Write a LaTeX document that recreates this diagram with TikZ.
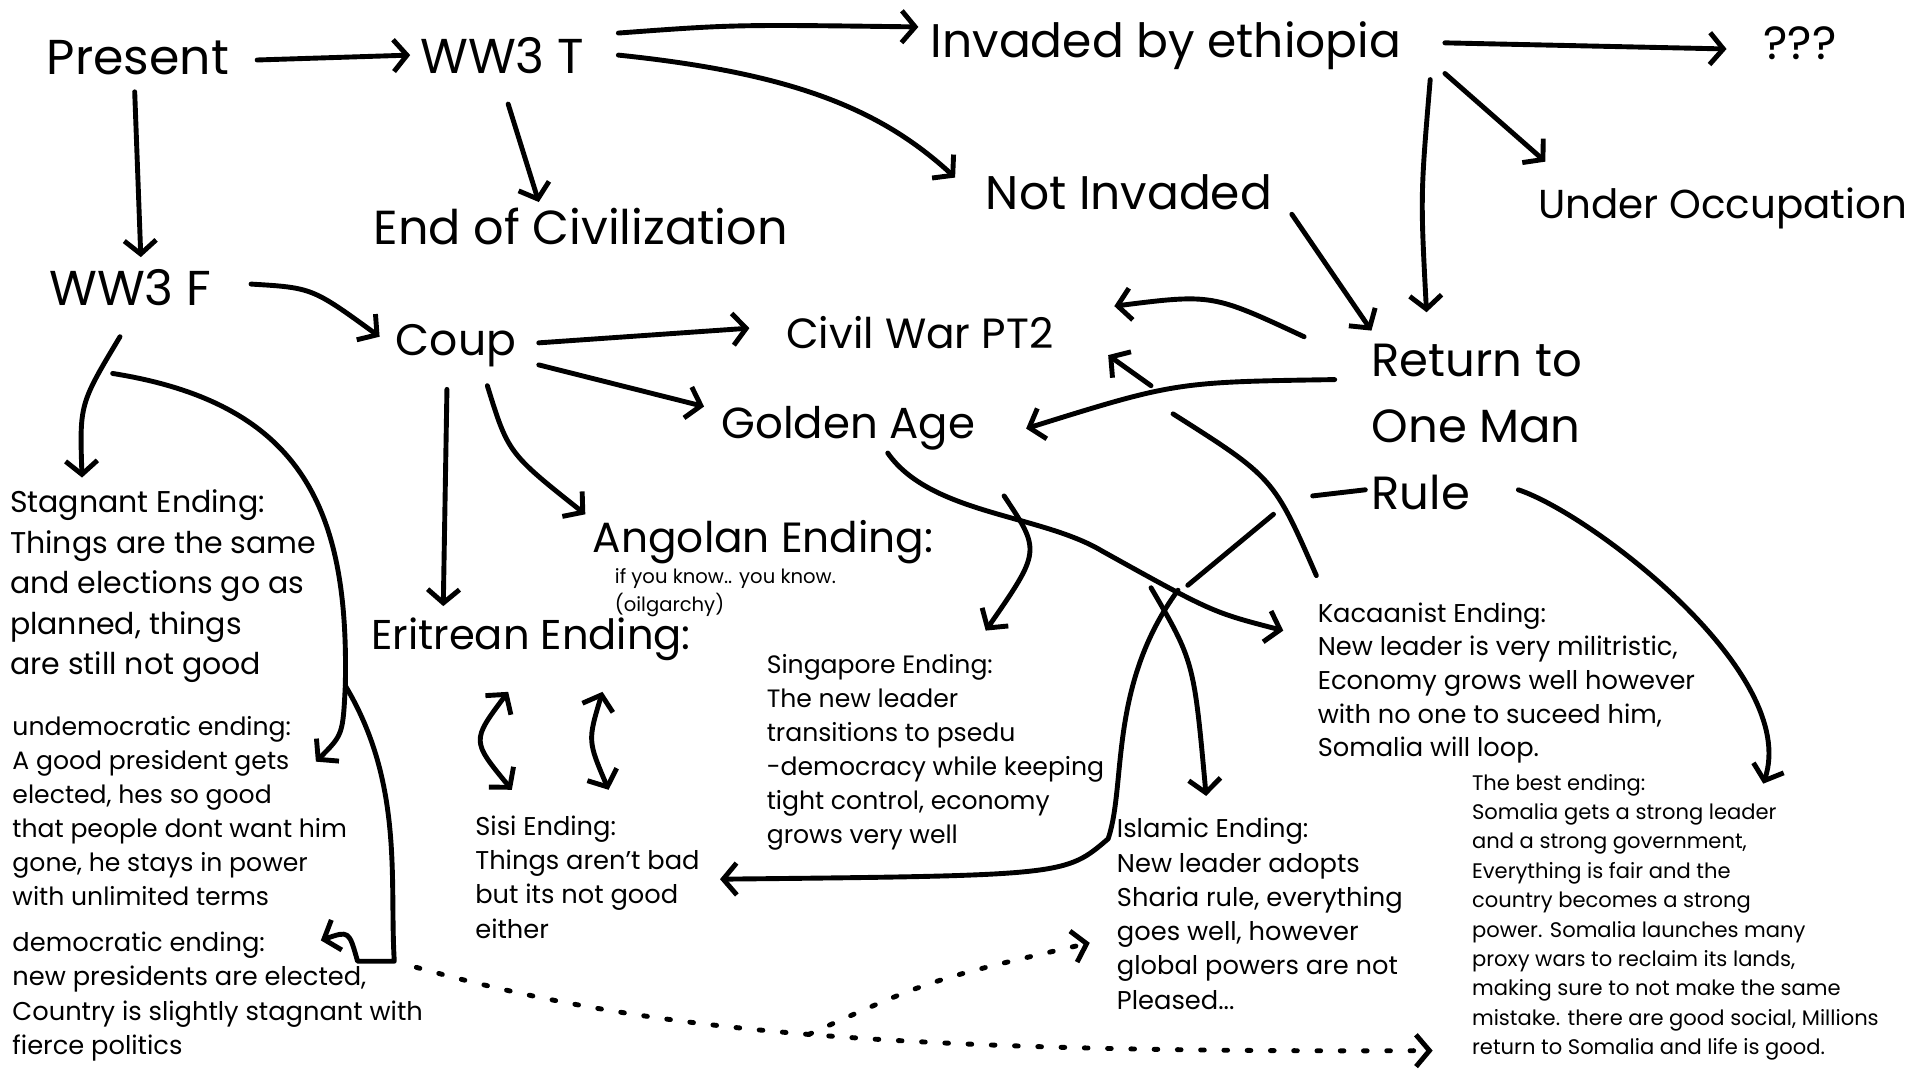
\documentclass[tikz,border=0pt]{standalone}
\usepackage{fontspec}
\setmainfont{Poppins}
\usetikzlibrary{arrows.meta}
\newcommand{\fs}[1]{\fontsize{#1}{#1}\selectfont}
\tikzset{
  t/.style={anchor=west,inner sep=0pt,font=\fs{#1}},
  blk/.style 2 args={anchor=north west,inner sep=0pt,align=left,font=\fontsize{#1}{#2}\selectfont},
  ar/.style={line width=4pt,line cap=round,line join=round,-{Straight Barb[length=11pt,width=26pt,line width=4pt]}},
  ln/.style={line width=4pt,line cap=round,line join=round},
  dar/.style={ar,dash pattern=on 3pt off 16pt},
  dd/.style={ar,{Straight Barb[length=11pt,width=26pt,line width=4pt]}-{Straight Barb[length=11pt,width=26pt,line width=4pt]}}
}
\begin{document}
\begin{tikzpicture}[x=1pt,y=-1pt]
\useasboundingbox[fill=white] (0,0) rectangle (1568,882);
\node[t=40] (present) at (38,47) {Present};
\node[t=40] (ww3t) at (343,45) {WW3 T};
\node[t=38.5] (inv) at (760,37) {Invaded by ethiopia};
\node[t=38] (q) at (1440,35) {???};
\node[t=39] (end) at (305,185) {End of Civilization};
\node[t=38.5] (notinv) at (805,157) {Not Invaded};
\node[t=33] (occ) at (1256,170) {Under Occupation};
\node[t=40] (ww3f) at (40,235) {WW3 F};
\node[t=36] (coup) at (323,282) {Coup};
\node[t=34.5] (civ) at (642,272) {Civil War PT2};
\node[t=35.5] (gold) at (589,350) {Golden Age};
\node[t=38] (r1) at (1120,294) {Return to};
\node[t=38] (r2) at (1120,348) {One Man};
\node[t=38] (r3) at (1120,402) {Rule};
\node[t=34.5] (ang) at (484,443) {Angolan Ending:};
\node[blk={16}{23}] (ifyou) at (502,464) {if you know.. you know.\\(oilgarchy)};
\node[t=34] (eri) at (303,522) {Eritrean Ending:};
\node[blk={24.5}{33}] (stag) at (8,400) {Stagnant Ending:\\Things are the same\\and elections go as\\planned, things\\are still not good};
\node[blk={20.5}{27.7}] (undem) at (10,585) {undemocratic ending:\\A good president gets\\elected, hes so good\\that people dont want him\\gone, he stays in power\\with unlimited terms};
\node[blk={21}{28}] (dem) at (10,761) {democratic ending:\\new presidents are elected,\\Country is slightly stagnant with\\fierce politics};
\node[blk={21}{28}] (sisi) at (388,666) {Sisi Ending:\\Things aren't bad\\but its not good\\either};
\node[blk={20.5}{27.8}] (sing) at (626,534) {Singapore Ending:\\The new leader\\transitions to psedu\\-democracy while keeping\\tight control, economy\\grows very well};
\node[blk={21}{28}] (isl) at (912,668) {Islamic Ending:\\New leader adopts\\Sharia rule, everything\\goes well, however\\global powers are not\\Pleased...};
\node[blk={21}{27.5}] (kac) at (1076,492) {Kacaanist Ending:\\New leader is very militristic,\\Economy grows well however\\with no one to suceed him,\\Somalia will loop.};
\node[blk={17.2}{24}] (best) at (1202,632) {The best ending:\\Somalia gets a strong leader\\and a strong government,\\Everything is fair and the\\country becomes a strong\\power. Somalia launches many\\proxy wars to reclaim its lands,\\making sure to not make the same\\mistake. there are good social, Millions\\return to Somalia and life is good.};

\draw[ar] (210,49) -- (335,45);
\draw[ar] (505,27) .. controls (600,20) .. (750,22);
\draw[ar] (505,45) .. controls (650,60) and (720,90) .. (780,145);
\draw[ar] (415,85) -- (440,165);
\draw[ar] (1180,35) -- (1410,40);
\draw[ar] (1180,60) -- (1262,132);
\draw[ar] (1168,65) .. controls (1160,160) .. (1165,255);
\draw[ar] (1055,175) -- (1120,270);
\draw[ar] (110,75) -- (115,210);
\draw[ar] (205,232) .. controls (255,235) .. (310,275);
\draw[ar] (440,280) -- (612,268);
\draw[ar] (440,298) -- (575,332);
\draw[ar] (398,315) .. controls (415,370) .. (478,420);
\draw[ar] (365,318) -- (362,495);
\draw[ar] (1065,275) .. controls (990,240) .. (910,250);
\draw[ar] (940,315) -- (905,290);
\draw[ar] (1090,310) .. controls (960,312) .. (838,350);
\draw[ln] (958,338) .. controls (1040,390) .. (1075,470);
\draw[ln] (1115,400) -- (1072,405);
\draw[ln] (1040,420) -- (970,478);
\draw[ar] (962,482) .. controls (905,560) and (920,640) .. (905,685) .. controls (870,715) .. (588,718);
\draw[ar] (940,480) .. controls (975,540) .. (985,650);
\draw[ar] (820,405) .. controls (850,450) .. (805,515);
\draw[ar] (725,370) .. controls (760,420) and (850,420) .. (900,450) .. controls (990,500) .. (1048,515);
\draw[ar] (1240,400) .. controls (1300,420) and (1470,550) .. (1440,640);
\draw[ar] (98,275) .. controls (65,330) .. (67,390);
\draw[ar] (92,305) .. controls (250,330) and (285,420) .. (282,560) .. controls (280,600) .. (258,622);
\draw[ar] (282,560) .. controls (330,640) and (318,720) .. (322,785) -- (292,785) .. controls (285,760) .. (262,768);
\draw[dd] (415,565) .. controls (385,605) .. (418,645);
\draw[dd] (492,565) .. controls (480,605) .. (497,645);
\draw[dar] (340,790) .. controls (520,840) and (700,860) .. (1170,858);
\draw[dar] (660,845) .. controls (760,800) .. (890,770);
\end{tikzpicture}
\end{document}
